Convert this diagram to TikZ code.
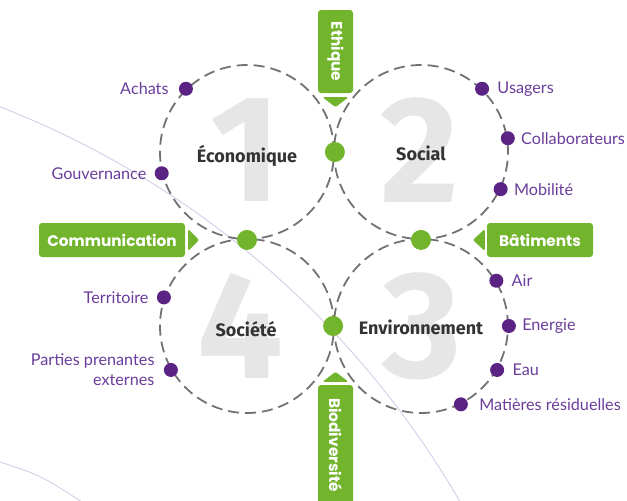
\documentclass[tikz,border=0pt]{standalone}
\usepackage{fontspec}
\setmainfont{Lato}
\newfontfamily\tabfont{Poppins}
\newfontfamily\pillarfont{Fira Sans}
\usetikzlibrary{positioning,calc}

\definecolor{leafgreen}{HTML}{72B52C}
\definecolor{plum}{HTML}{5B2383}
\definecolor{plumtext}{HTML}{6A3D9A}
\definecolor{dashgray}{HTML}{727272}
\definecolor{digitgray}{HTML}{E6E6E6}
\definecolor{inkgray}{HTML}{333333}
\definecolor{lavender}{HTML}{D2CEE8}

\begin{document}
\begin{tikzpicture}[
  x=1pt, y=-1pt,
  every node/.style={font=\fontsize{16.2}{20}\selectfont},
  ring/.style={circle, draw=dashgray, line width=1.8pt, dash pattern=on 11pt off 6pt, minimum size=174pt, inner sep=0pt},
  digit/.style={text=digitgray, font=\pillarfont\bfseries\fontsize{152}{152}\selectfont, inner sep=0pt},
  pillar/.style={text=inkgray, anchor=base, font=\pillarfont\bfseries\fontsize{18}{20}\selectfont},
  junction/.style={circle, fill=leafgreen, minimum size=20pt, inner sep=0pt},
  topic/.style={circle, fill=plum, minimum size=14pt, inner sep=0pt},
  item/.style={text=plumtext, inner sep=1pt},
  tab/.style={fill=leafgreen, rounded corners=3pt, text=white, inner sep=0pt, font=\tabfont\bfseries\fontsize{15.3}{17}\selectfont},
  pointer/.style={fill=leafgreen, rounded corners=1.5pt}
]
\clip (0,0) rectangle (627,501);

% faint background arcs
\draw[lavender, line width=0.9pt] (-331,958) circle (913);
\draw[lavender, line width=0.9pt] (0,462) .. controls (40,475) .. (82,502);

% big numbers
\node[digit] (n1) at (246,150) {1};
\node[digit] (n2) at (420,150) {2};
\node[digit] (n3) at (422,326) {3};
\node[digit] (n4) at (240,326) {4};

% the four rings
\node[ring] (eco) at (247,152) {};
\node[ring] (soc) at (421,152) {};
\node[ring] (env) at (421,326) {};
\node[ring] (sty) at (247,326) {};

\node[pillar] (ecol) at (247,162) {Économique};
\node[pillar] (socl) at (421,160) {Social};
\node[pillar] (envl) at (421,334) {Environnement};
\node[pillar] (styl) at (246,336) {Société};

% junctions
\node[junction] (j12) at (eco.east) {};
\node[junction] (j14) at (eco.south) {};
\node[junction] (j23) at (soc.south) {};
\node[junction] (j34) at (env.west) {};

% Économique
\node[topic] (achats) at (eco.134) {};
\node[item, left=9pt of achats] (achatsl) {Achats};
\node[topic] (gouv) at (eco.194) {};
\node[item, left=7pt of gouv] (gouvl) {Gouvernance};

% Social
\node[topic] (usag) at (soc.46) {};
\node[item, right=7pt of usag] (usagl) {Usagers};
\node[topic] (collab) at (soc.9) {};
\node[item, right=5pt of collab] (collabl) {Collaborateurs};
\node[topic] (mobil) at (soc.-25) {};
\node[item, right=5pt of mobil] (mobill) {Mobilité};

% Environnement
\node[topic] (air) at (env.31) {};
\node[item, right=7pt of air] (airl) {Air};
\node[topic] (ener) at (env.0) {};
\node[item, right=5pt of ener] (enerl) {Energie};
\node[topic] (eau) at (env.-30) {};
\node[item, right=7pt of eau] (eaul) {Eau};
\node[topic] (resid) at (env.-63) {};
\node[item, right=10pt of resid] (residl) {Matières résiduelles};

% Société
\node[topic] (terr) at (sty.161) {};
\node[item, left=7pt of terr] (terrl) {Territoire};
\node[topic] (parties) at (sty.210) {};
\node[item, left=8pt of parties, align=right] (partiesl) {Parties prenantes\\externes};

% tabs
\node[tab, minimum width=146pt, minimum height=34pt] (comm) at (112,240) {Communication};
\node[tab, minimum width=106pt, minimum height=34pt] (bati) at (540,240) {Bâtiments};
\node[tab, rotate=-90, minimum width=83pt, minimum height=35pt] (ethi) at (335.5,51.5) {Ethique};
\node[tab, rotate=-90, minimum width=120pt, minimum height=35pt] (biod) at (335.5,445) {Biodiversité};

\fill[pointer] ($(comm.east)+(3,-11)$) -- ++(11,11) -- ++(-11,11) -- cycle;
\fill[pointer] ($(bati.west)+(-2,-11)$) -- ++(0,22) -- ++(-12,-11) -- cycle;
\fill[pointer] ($(ethi.east)+(-13,4)$) -- ++(26,0) -- ++(-13,10) -- cycle;
\fill[pointer] ($(biod.west)+(-13,-3)$) -- ++(26,0) -- ++(-13,-10) -- cycle;
\end{tikzpicture}
\end{document}
